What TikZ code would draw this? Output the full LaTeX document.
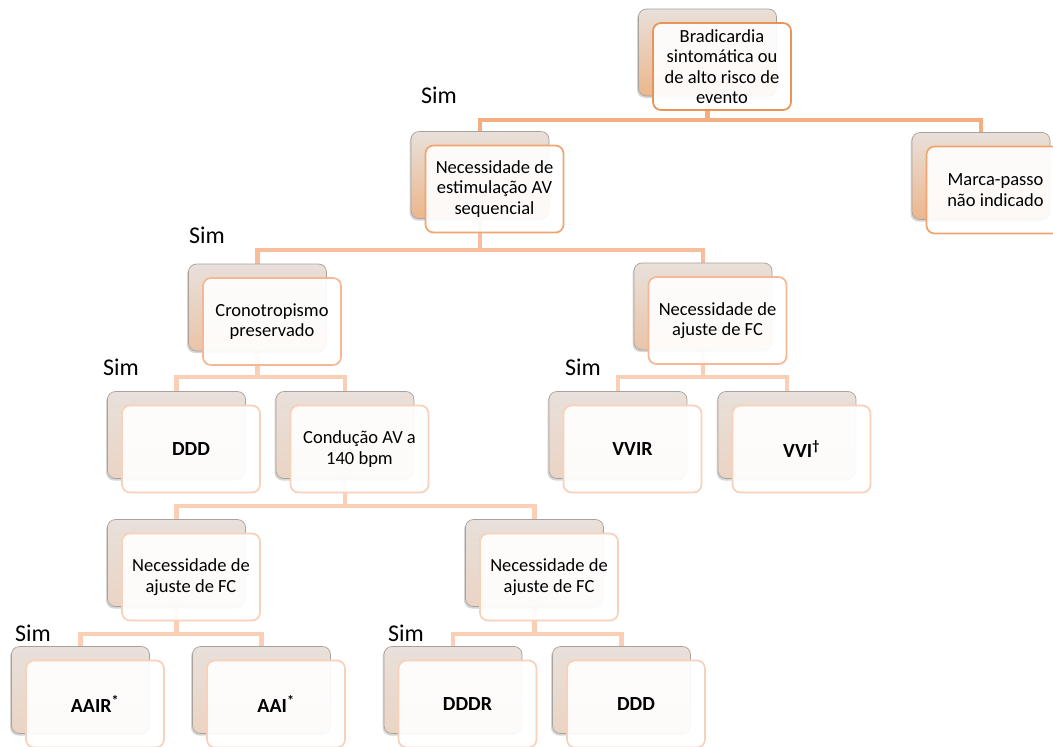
\documentclass[tikz,border=0pt]{standalone}
\usepackage{fontspec}
\setmainfont{Carlito}
\usetikzlibrary{calc,shadows}
\pgfdeclarelayer{paper}
\pgfdeclarelayer{bg}
\pgfsetlayers{paper,bg,main}
\definecolor{bkTop}{HTML}{E8E0DA}
\definecolor{bkBotA}{HTML}{ECB68C}
\definecolor{bkBotB}{HTML}{EAC4A8}
\definecolor{bkBotC}{HTML}{EAD4C4}
\definecolor{bkLine}{HTML}{A9A29C}
\definecolor{frA}{HTML}{EB9255}
\definecolor{frB}{HTML}{F2A470}
\definecolor{frC}{HTML}{F6B894}
\definecolor{frD}{HTML}{F9D0B9}
\definecolor{cnA}{HTML}{F4AD7F}
\definecolor{cnB}{HTML}{F8BE9C}
\definecolor{cnC}{HTML}{FBCFB6}
\tikzset{
  backbase/.style={rounded corners=8pt, minimum width=138pt, minimum height=87pt,
    inner sep=0pt, outer sep=0pt, draw=bkLine, line width=0.7pt, top color=bkTop,
    drop shadow={shadow xshift=-1.5pt, shadow yshift=-2pt, fill=black!45, opacity=0.35}},
  backA/.style={backbase, bottom color=bkBotA},
  backB/.style={backbase, bottom color=bkBotB},
  backC/.style={backbase, bottom color=bkBotC},
  frontbase/.style={rounded corners=8pt, minimum width=138pt, minimum height=87pt,
    inner sep=2pt, outer sep=0pt, line width=1.7pt, fill=white, fill opacity=0.92,
    text opacity=1, align=center, font=\fontsize{18.5}{20.5}\selectfont},
  frontA/.style={frontbase, draw=frA},
  frontB/.style={frontbase, draw=frB},
  frontC/.style={frontbase, draw=frC},
  frontD/.style={frontbase, draw=frD},
  bold/.style={font=\fontsize{20}{22}\selectfont\bfseries},
  connA/.style={draw=cnA, line width=4.2pt},
  connB/.style={draw=cnB, line width=4.2pt},
  connC/.style={draw=cnC, line width=4.2pt},
  simlabel/.style={inner sep=0pt, font=\fontsize{24}{26}\selectfont}
}
\newcommand\duo[6]{% name, x, y, back style, front style, text
  \node[#4] (b#1) at (#2,#3) {};
  \node[#5] (#1) at ($(b#1.center)+(14.5,14)$) {#6};
}
\begin{document}
\begin{tikzpicture}[x=1pt,y=-1pt]
\useasboundingbox (0,0) rectangle (1053,747);
\clip (0,0) rectangle (1053,747);
\begin{pgfonlayer}{paper}
\fill[white] (0,0) rectangle (1053,747);
\end{pgfonlayer}

% boxes
\duo{root}{707.5}{52.5}{backA}{frontA}{Bradicardia\\sintomática ou\\de alto risco de\\evento}
\duo{seq}{480}{175}{backA}{frontB}{Necessidade de\\estimulação AV\\sequencial}
\duo{nao}{981}{176}{backA}{frontB}{Marca-passo\\não indicado}
\duo{crono}{257.5}{307.5}{backB}{frontC}{Cronotropismo\\preservado}
\duo{fcA}{703}{306.5}{backB}{frontC}{Necessidade de\\ajuste de FC}
\duo{dddA}{176.5}{435}{backC}{frontD,bold}{DDD}
\duo{cond}{345}{435}{backC}{frontD}{Condução AV a\\140 bpm}
\duo{vvir}{618}{435}{backC}{frontD,bold}{VVIR}
\duo{vvi}{787}{435}{backC}{frontD,bold}{VVI\textsuperscript{\textdagger}}
\duo{fcB}{176.5}{563}{backC}{frontD}{Necessidade de\\ajuste de FC}
\duo{fcC}{534.5}{563}{backC}{frontD}{Necessidade de\\ajuste de FC}
\duo{aair}{80.5}{690}{backC}{frontD,bold}{AAIR\textsuperscript{*}}
\duo{aai}{261.5}{690}{backC}{frontD,bold}{AAI\textsuperscript{*}}
\duo{dddr}{453}{690}{backC}{frontD,bold}{DDDR}
\duo{dddB}{621.5}{690}{backC}{frontD,bold}{DDD}

% bus points
\coordinate (j0) at (broot.center |- 0,120);
\coordinate (j1) at (bseq.center |- 0,250);
\coordinate (j2) at (bcrono.center |- 0,377);
\coordinate (j3) at (bfcA.center |- 0,377);
\coordinate (j4) at (bcond.center |- 0,506);
\coordinate (j5) at (bfcB.center |- 0,634);
\coordinate (j6) at (bfcC.center |- 0,634);

\begin{pgfonlayer}{bg}
\draw[connA] (broot.center) -- (j0) -| (bseq.north);
\draw[connA] (j0) -| (bnao.north);
\draw[connB] (bseq.center) -- (j1) -| (bcrono.north);
\draw[connB] (j1) -| (bfcA.north);
\draw[connC] (bcrono.center) -- (j2) -| (bdddA.north);
\draw[connC] (j2) -| (bcond.north);
\draw[connC] (bfcA.center) -- (j3) -| (bvvir.north);
\draw[connC] (j3) -| (bvvi.north);
\draw[connC] (bcond.center) -- (j4) -| (bfcB.north);
\draw[connC] (j4) -| (bfcC.north);
\draw[connC] (bfcB.center) -- (j5) -| (baair.north);
\draw[connC] (j5) -| (baai.north);
\draw[connC] (bfcC.center) -- (j6) -| (bdddr.north);
\draw[connC] (j6) -| (bdddB.north);
\end{pgfonlayer}

% labels
\node[simlabel] (sim0) at (439,95) {Sim};
\node[simlabel] (sim1) at (207,235) {Sim};
\node[simlabel] (sim2) at (121,367) {Sim};
\node[simlabel] (sim3) at (583,367) {Sim};
\node[simlabel] (sim4) at (33,633) {Sim};
\node[simlabel] (sim5) at (406,633) {Sim};
\end{tikzpicture}
\end{document}
